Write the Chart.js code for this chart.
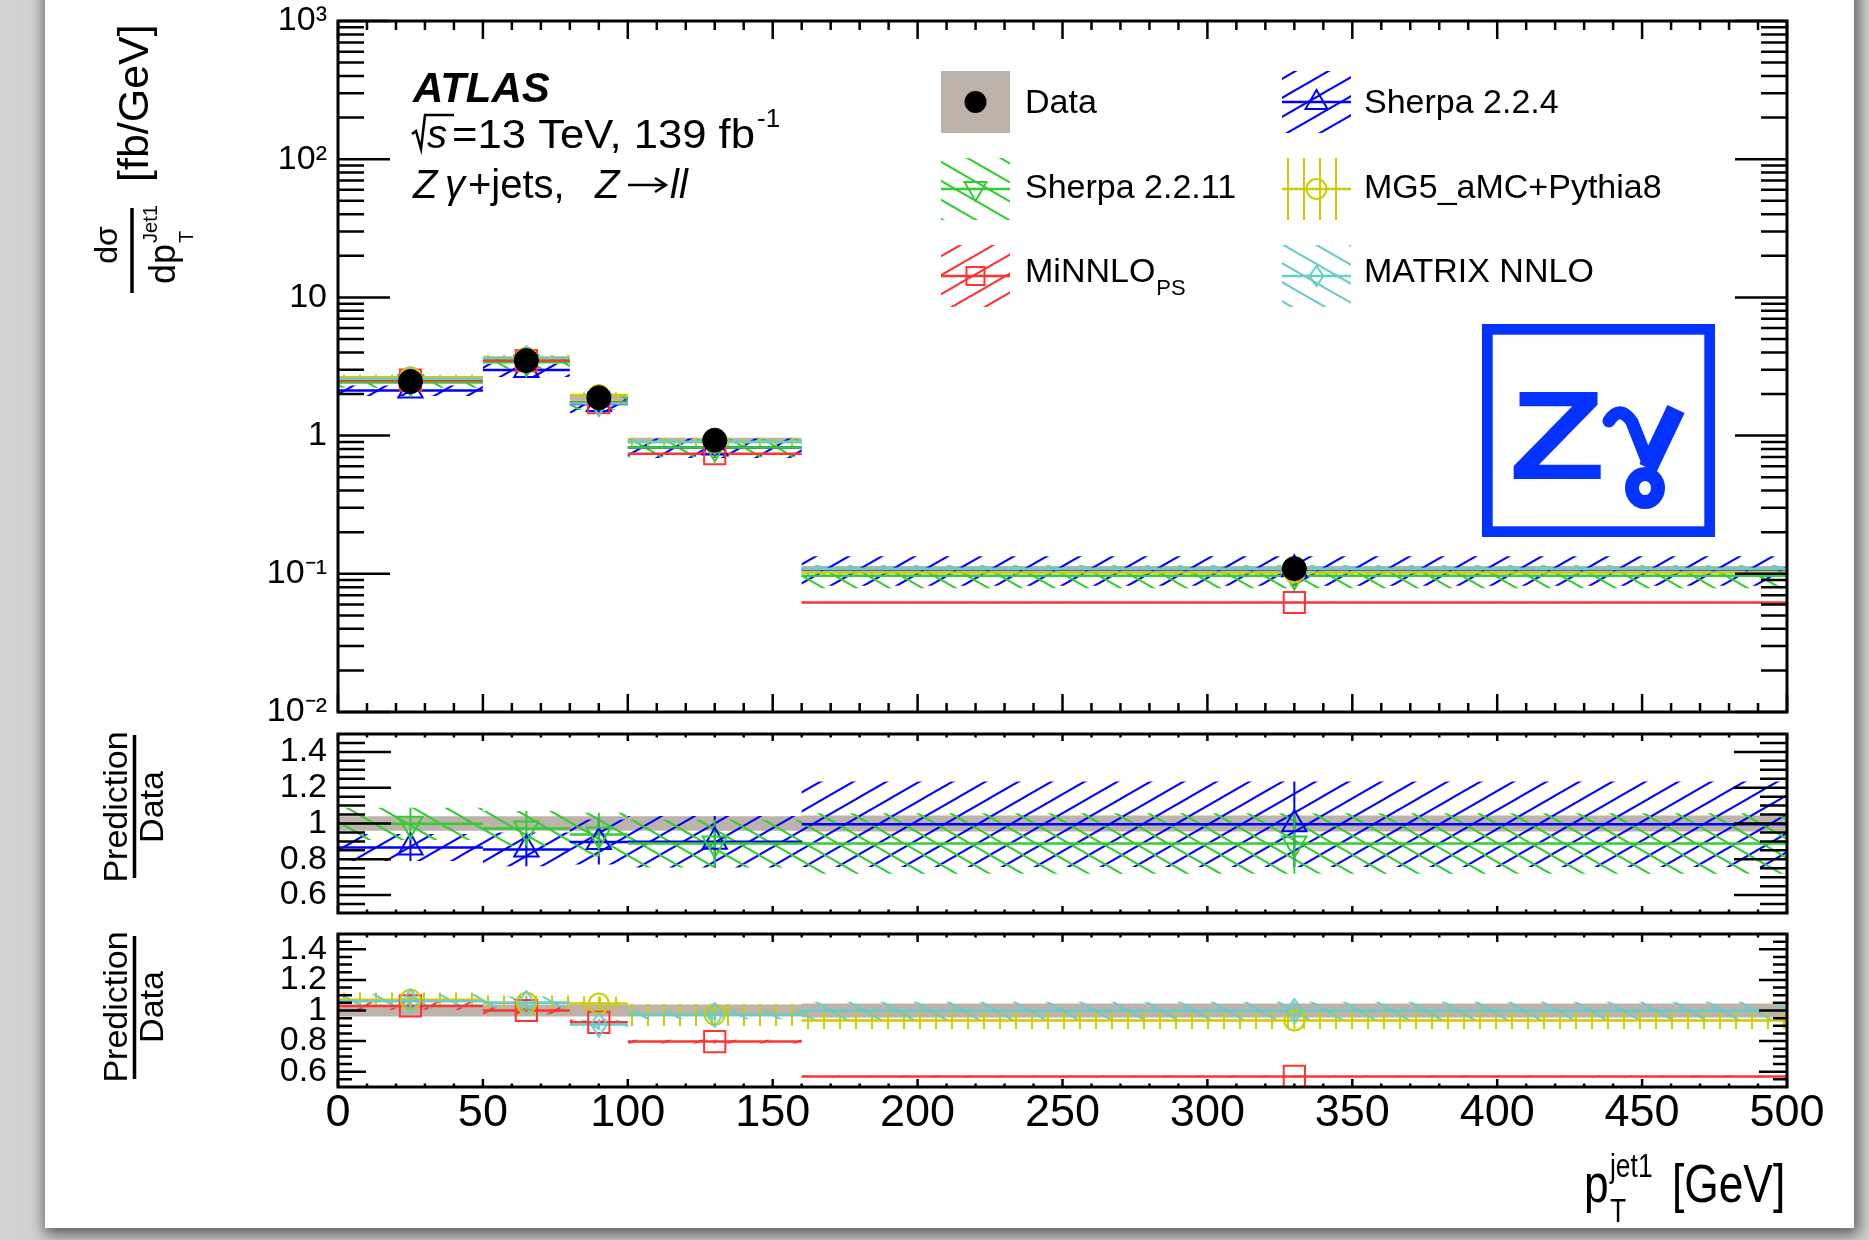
<!DOCTYPE html>
<html>
<head>
<meta charset="utf-8">
<script src="https://cdn.jsdelivr.net/npm/chart.js@4.4.0/dist/chart.umd.min.js"></script>
<style>
  html, body { margin: 0; padding: 0; width: 1869px; height: 1240px; overflow: hidden; background: #d2d2d2; }
  #page { position: absolute; left: 45px; top: -40px; width: 1809px; height: 1268px; background: #fff;
          box-shadow: 2px 4px 14px 3px rgba(0, 0, 0, 0.55); }
  canvas { position: absolute; left: 0; top: 0; }
</style>
</head>
<body>
<div id="page"></div>
<canvas id="mainChart" width="1869" height="1240"></canvas>
<canvas id="ratio1Chart" width="1869" height="1240"></canvas>
<canvas id="ratio2Chart" width="1869" height="1240"></canvas>
<script>
// ---- values ----
const binEdges = [0, 50, 80, 100, 160, 500];
const binCenters = [25, 65, 90, 130, 330];

const dataXsec = [2.46, 3.49, 1.88, 0.926, 0.109];
const dataErr = [0.04, 0.04, 0.04, 0.04, 0.045];
const dataRatio = [1, 1, 1, 1, 1];

const sherpa224Xsec = [2.12, 2.98, 1.69, 0.82, 0.108];
const sherpa2211Xsec = [2.44, 3.39, 1.76, 0.82, 0.097];
const mg5Xsec = [2.64, 3.68, 1.97, 0.90, 0.102];
const minnloXsec = [2.52, 3.49, 1.73, 0.74, 0.062];
const matrixXsec = [2.58, 3.64, 1.71, 0.90, 0.109];

const sherpa224Ratio = [0.866, 0.855, 0.897, 0.898, 0.996];
const sherpa2211Ratio = [0.998, 0.972, 0.938, 0.888, 0.888];
const mg5Ratio = [1.07, 1.05, 1.045, 0.972, 0.935];
const minnloRatio = [1.03, 1.0, 0.923, 0.797, 0.569];
const matrixRatio = [1.06, 1.05, 0.908, 0.972, 0.998];

// relative uncertainties (hatched bands)
const sherpa224Err = [0.087, 0.11, 0.14, 0.16, 0.24];
const sherpa2211Err = [0.09, 0.10, 0.13, 0.15, 0.19];
const mg5Err = [0.045, 0.045, 0.045, 0.075, 0.06];
const minnloErr = [0.025, 0.025, 0.02, 0.015, 0.012];
const matrixErr = [0.045, 0.04, 0.035, 0.03, 0.06];

const mainTicks = [0.01, 0.1, 1, 10, 100, 1000];
const mainTickLabels = ['10\u207B\u00B2', '10\u207B\u00B9', '1', '10', '10\u00B2', '10\u00B3'];
const ratioTicks = [0.6, 0.8, 1, 1.2, 1.4];
const ratioTickLabels = ['0.6', '0.8', '1', '1.2', '1.4'];
const xTicks = [0, 50, 100, 150, 200, 250, 300, 350, 400, 450, 500];

const FONT = '"Liberation Sans", Arial, Helvetica, sans-serif';
Chart.defaults.font.family = FONT;
Chart.defaults.color = '#000';

const BLUE = '#0000ff', GREEN = '#33cc33', RED = '#ff3333', YELLOW = '#cccc00', CYAN = '#66cccc', GREY = '#bdb3aa';

// hatch fill like ROOT fill styles
function hatch(color, dir) {
  const tile = document.createElement('canvas');
  const w = dir === '|' ? 16 : 33, h = dir === '|' ? 8 : 19;
  tile.width = w; tile.height = h;
  const g = tile.getContext('2d');
  g.strokeStyle = color; g.lineWidth = 2;
  g.beginPath();
  if (dir === '|') {
    g.moveTo(w / 2, 0); g.lineTo(w / 2, h);
  } else {
    for (let k = -1; k <= 1; k++) {
      if (dir === '/') { g.moveTo(k * w - w, 2 * h); g.lineTo(k * w + 2 * w, -h); }
      else { g.moveTo(k * w - w, -h); g.lineTo(k * w + 2 * w, 2 * h); }
    }
  }
  g.stroke();
  return g.createPattern(tile, 'repeat');
}

// thin open diamond marker
function diamondImg(color) {
  const c = document.createElement('canvas');
  c.width = 20; c.height = 26;
  const g = c.getContext('2d');
  g.strokeStyle = color; g.lineWidth = 2;
  g.beginPath(); g.moveTo(10, 1); g.lineTo(18, 13); g.lineTo(10, 25); g.lineTo(2, 13); g.closePath(); g.stroke();
  return c;
}

const series = [
  { name: 'MATRIX NNLO', xsec: matrixXsec, ratio: matrixRatio, err: matrixErr, color: CYAN, hatch: '\\', marker: 'diamond', panel: 2 },
  { name: 'MG5_aMC+Pythia8', xsec: mg5Xsec, ratio: mg5Ratio, err: mg5Err, color: YELLOW, hatch: '|', marker: 'circle', panel: 2 },
  { name: 'MiNNLO', xsec: minnloXsec, ratio: minnloRatio, err: minnloErr, color: RED, hatch: '/', marker: 'square', panel: 2 },
  { name: 'Sherpa 2.2.11', xsec: sherpa2211Xsec, ratio: sherpa2211Ratio, err: sherpa2211Err, color: GREEN, hatch: '\\', marker: 'triDown', panel: 1 },
  { name: 'Sherpa 2.2.4', xsec: sherpa224Xsec, ratio: sherpa224Ratio, err: sherpa224Err, color: BLUE, hatch: '/', marker: 'triUp', panel: 1 }
];

function markerOpts(s) {
  const base = { pointBorderColor: s.color, pointBackgroundColor: 'rgba(0,0,0,0)', pointBorderWidth: 2, pointRotation: 0 };
  if (s.marker === 'triUp') return { ...base, pointStyle: 'triangle', pointRadius: 14 };
  if (s.marker === 'triDown') return { ...base, pointStyle: 'triangle', pointRadius: 14, pointRotation: 180 };
  if (s.marker === 'circle') return { ...base, pointStyle: 'circle', pointRadius: 10 };
  if (s.marker === 'square') return { ...base, pointStyle: 'rect', pointRadius: 15 };
  return { ...base, pointStyle: diamondImg(s.color), pointRadius: 11 };
}

// points helpers
function edgeSteps(vals) {
  const pts = vals.map((v, i) => ({ x: binEdges[i], y: v }));
  pts.push({ x: binEdges[binEdges.length - 1], y: vals[vals.length - 1] });
  return pts;
}
function binLines(vals) {
  const pts = [];
  vals.forEach((v, i) => {
    pts.push({ x: binEdges[i], y: v }, { x: binEdges[i + 1], y: v }, { x: binEdges[i + 1], y: null });
  });
  return pts;
}
function errBars(vals, err) {
  const pts = [];
  vals.forEach((v, i) => {
    pts.push({ x: binCenters[i], y: v * (1 - err[i]) }, { x: binCenters[i], y: v * (1 + err[i]) }, { x: binCenters[i], y: null });
  });
  return pts;
}
function bandSets(vals, err, fill, order) {
  const common = { stepped: true, borderWidth: 0, borderColor: 'transparent', pointRadius: 0, order };
  return [
    { ...common, data: edgeSteps(vals.map((v, i) => v * (1 + err[i]))), fill: false },
    { ...common, data: edgeSteps(vals.map((v, i) => v * (1 - err[i]))), fill: '-1', backgroundColor: fill }
  ];
}
function seriesSets(vals, err, s, k) {
  return [
    ...bandSets(vals, err, hatch(s.color, s.hatch), 40 + k),
    { data: binLines(vals), borderColor: s.color, borderWidth: 2.5, pointRadius: 0, fill: false, order: 30 + k },
    { data: errBars(vals, err), borderColor: s.color, borderWidth: 2, pointRadius: 0, fill: false, order: 20 + k },
    { data: binCenters.map((x, i) => ({ x, y: vals[i] })), showLine: false, order: 10 + k, ...markerOpts(s) }
  ];
}

// frame with inward ticks on all four sides
function framePlugin(cfg) {
  return {
    id: 'frame',
    afterDraw(chart) {
      const { ctx, chartArea: a } = chart;
      const x = chart.scales.x, y = chart.scales.y;
      ctx.save();
      ctx.strokeStyle = '#000';
      ctx.lineWidth = 2.5;
      ctx.beginPath();
      for (let v = 0; v <= 500; v += 10) {
        const px = x.getPixelForValue(v);
        const len = v % 50 === 0 ? cfg.xMajor : cfg.xMinor;
        ctx.moveTo(px, a.top); ctx.lineTo(px, a.top + len);
        ctx.moveTo(px, a.bottom); ctx.lineTo(px, a.bottom - len);
      }
      const yTick = (v, len) => {
        const py = y.getPixelForValue(v);
        ctx.moveTo(a.left, py); ctx.lineTo(a.left + len, py);
        ctx.moveTo(a.right, py); ctx.lineTo(a.right - len, py);
      };
      cfg.yMinorVals.forEach(v => yTick(v, cfg.yMinor));
      cfg.yMajorVals.forEach(v => yTick(v, cfg.yMajor));
      ctx.stroke();
      ctx.lineWidth = 3;
      ctx.strokeRect(a.left, a.top, a.right - a.left, a.bottom - a.top);
      ctx.restore();
    }
  };
}

const logMinor = [];
[-2, -1, 0, 1, 2].forEach(k => { for (let m = 2; m <= 9; m++) logMinor.push(m * Math.pow(10, k)); });
const ratioMinor = [0.55, 0.65, 0.7, 0.75, 0.85, 0.9, 0.95, 1.05, 1.1, 1.15, 1.25, 1.3, 1.35, 1.45];

// text helpers
function txt(ctx, s, x, y, font, sx) {
  ctx.save(); ctx.translate(x, y); ctx.scale(sx || 1, 1);
  ctx.font = font; ctx.textAlign = 'left'; ctx.textBaseline = 'alphabetic';
  ctx.fillText(s, 0, 0); ctx.restore();
}
function rotText(ctx, s, x, y, font, align) {
  ctx.save(); ctx.translate(x, y); ctx.rotate(-Math.PI / 2);
  ctx.font = font; ctx.textAlign = align || 'left'; ctx.textBaseline = 'alphabetic';
  ctx.fillText(s, 0, 0); ctx.restore();
}
function drawMarker(ctx, kind, x, y, color) {
  ctx.save();
  ctx.strokeStyle = color; ctx.fillStyle = color; ctx.lineWidth = 2;
  ctx.beginPath();
  if (kind === 'dot') { ctx.arc(x, y, 11, 0, 2 * Math.PI); ctx.fill(); }
  else if (kind === 'triUp') { ctx.moveTo(x, y - 12); ctx.lineTo(x + 11, y + 7); ctx.lineTo(x - 11, y + 7); ctx.closePath(); ctx.stroke(); }
  else if (kind === 'triDown') { ctx.moveTo(x, y + 12); ctx.lineTo(x + 11, y - 7); ctx.lineTo(x - 11, y - 7); ctx.closePath(); ctx.stroke(); }
  else if (kind === 'circle') { ctx.arc(x, y, 10, 0, 2 * Math.PI); ctx.stroke(); }
  else if (kind === 'square') { ctx.rect(x - 9, y - 9, 18, 18); ctx.stroke(); }
  else { ctx.moveTo(x, y - 10); ctx.lineTo(x + 7, y); ctx.lineTo(x, y + 10); ctx.lineTo(x - 7, y); ctx.closePath(); ctx.stroke(); }
  ctx.restore();
}

// labels, legend, logo, axis titles
const decorPlugin = {
  id: 'decor',
  afterDraw(chart) {
    const ctx = chart.ctx;
    ctx.save();
    ctx.fillStyle = '#000';

    // ATLAS label
    txt(ctx, 'ATLAS', 413, 102, 'italic bold 42px ' + FONT);
    ctx.strokeStyle = '#000'; ctx.lineWidth = 2.5;
    ctx.beginPath();
    ctx.moveTo(412, 134); ctx.lineTo(416, 131); ctx.lineTo(421, 149); ctx.lineTo(425, 115); ctx.lineTo(454, 115);
    ctx.stroke();
    txt(ctx, 's', 427, 148, 'italic 40px ' + FONT);
    ctx.font = '40px ' + FONT;
    const wLumi = ctx.measureText('=13 TeV, 139 fb').width;
    txt(ctx, '=13 TeV, 139 fb', 452, 148, '40px ' + FONT, (755 - 452) / wLumi);
    txt(ctx, '-1', 757, 127, '26px ' + FONT);
    txt(ctx, 'Z', 413, 198, 'italic 40px ' + FONT);
    txt(ctx, '\u03B3', 445, 198, 'italic 40px ' + FONT);
    txt(ctx, '+jets,', 468, 198, '40px ' + FONT);
    txt(ctx, 'Z', 595, 198, 'italic 40px ' + FONT);
    ctx.beginPath();
    ctx.moveTo(628, 185); ctx.lineTo(665, 185);
    ctx.moveTo(655, 178); ctx.lineTo(666, 185); ctx.lineTo(655, 192);
    ctx.stroke();
    txt(ctx, 'll', 670, 198, 'italic 40px ' + FONT);

    // legend
    const colX = [941, 1282], rowY = [71, 158, 245], textX = [1025, 1364], baseY = [113, 198, 282];
    const bw = 69, bh = 62;
    ctx.fillStyle = GREY; ctx.fillRect(colX[0], rowY[0], bw, bh);
    drawMarker(ctx, 'dot', colX[0] + bw / 2, rowY[0] + bh / 2, '#000');
    const legendPos = { 'Sherpa 2.2.4': [1, 0], 'Sherpa 2.2.11': [0, 1], 'MG5_aMC+Pythia8': [1, 1], 'MiNNLO': [0, 2], 'MATRIX NNLO': [1, 2] };
    series.forEach(s => {
      const [c, r] = legendPos[s.name];
      const x0 = colX[c], y0 = rowY[r];
      ctx.fillStyle = hatch(s.color, s.hatch);
      ctx.fillRect(x0, y0, bw, bh);
      ctx.strokeStyle = s.color; ctx.lineWidth = 2.5;
      ctx.beginPath(); ctx.moveTo(x0, y0 + bh / 2); ctx.lineTo(x0 + bw, y0 + bh / 2); ctx.stroke();
      drawMarker(ctx, s.marker, x0 + bw / 2, y0 + bh / 2, s.color);
    });
    ctx.fillStyle = '#000';
    const LF = '34px ' + FONT;
    txt(ctx, 'Data', textX[0], baseY[0], LF);
    txt(ctx, 'Sherpa 2.2.4', textX[1], baseY[0], LF);
    txt(ctx, 'Sherpa 2.2.11', textX[0], baseY[1], LF);
    txt(ctx, 'MG5_aMC+Pythia8', textX[1], baseY[1], LF);
    txt(ctx, 'MiNNLO', textX[0], baseY[2], LF);
    ctx.font = LF;
    const wMi = ctx.measureText('MiNNLO').width;
    txt(ctx, 'PS', textX[0] + wMi + 1, baseY[2] + 13, '22px ' + FONT);
    txt(ctx, 'MATRIX NNLO', textX[1], baseY[2], LF);

    // Z gamma logo (box, bold Z, looped gamma)
    const logo = '#0433ff';
    ctx.strokeStyle = logo; ctx.lineWidth = 10.7;
    ctx.strokeRect(1482 + 5.35, 324 + 5.35, 233 - 10.7, 213 - 10.7);
    ctx.fillStyle = logo;
    txt(ctx, 'Z', 1509, 479, 'bold 126px ' + FONT, 1.25);
    ctx.lineCap = 'round';
    ctx.lineWidth = 13;
    ctx.beginPath(); ctx.moveTo(1609, 421); ctx.quadraticCurveTo(1620, 404, 1632, 422); ctx.lineTo(1647, 460); ctx.stroke();
    ctx.lineCap = 'butt';
    ctx.lineWidth = 19;
    ctx.beginPath(); ctx.moveTo(1676, 409); ctx.lineTo(1648, 468); ctx.stroke();
    ctx.lineWidth = 14;
    ctx.beginPath(); ctx.ellipse(1645, 488, 13, 14, 0, 0, 2 * Math.PI); ctx.stroke();

    // y axis title of the cross-section panel
    ctx.fillStyle = '#000';
    ctx.strokeStyle = '#000';
    rotText(ctx, 'd\u03C3', 117, 245, '32px ' + FONT, 'center');
    ctx.lineWidth = 3.5;
    ctx.beginPath(); ctx.moveTo(132, 208); ctx.lineTo(132, 293); ctx.stroke();
    rotText(ctx, 'dp', 175, 284, '36px ' + FONT);
    ctx.font = '36px ' + FONT;
    const wdp = ctx.measureText('dp').width;
    rotText(ctx, 'Jet1', 157, 284 - wdp - 1, '20px ' + FONT);
    rotText(ctx, 'T', 193, 284 - wdp - 1, '20px ' + FONT);
    rotText(ctx, '[fb/GeV]', 148, 182, '43px ' + FONT);

    // ratio titles
    [[807, 735, 878], [1007, 936, 1079]].forEach(([cy, b0, b1]) => {
      rotText(ctx, 'Prediction', 127, cy, '34px ' + FONT, 'center');
      rotText(ctx, 'Data', 163, cy, '34px ' + FONT, 'center');
      ctx.beginPath(); ctx.moveTo(134.5, b0); ctx.lineTo(134.5, b1); ctx.stroke();
    });

    // x axis title
    txt(ctx, 'p', 1584, 1202, '54px ' + FONT, 0.82);
    txt(ctx, 'jet1', 1610, 1177, '33px ' + FONT, 0.8);
    txt(ctx, 'T', 1610, 1222, '33px ' + FONT, 0.8);
    txt(ctx, '[GeV]', 1672, 1202, '54px ' + FONT, 0.82);
    ctx.restore();
  }
};

function makeChart(id, datasets, yOpts, pad, frameCfg, showX, extra) {
  const ctx = document.getElementById(id).getContext('2d');
  return new Chart(ctx, {
    type: 'line',
    data: { datasets },
    options: {
      responsive: false,
      animation: false,
      devicePixelRatio: 1,
      layout: { padding: pad },
      plugins: { legend: { display: false }, tooltip: { enabled: false } },
      elements: { line: { tension: 0 } },
      scales: {
        x: {
          type: 'linear', min: 0, max: 500, display: showX,
          grid: { display: false, drawTicks: false }, border: { display: false },
          afterBuildTicks: s => { s.ticks = xTicks.map(v => ({ value: v })); },
          afterFit: s => { if (showX) s.height = 60; },
          ticks: { autoSkip: false, maxRotation: 0, padding: 0, font: { size: 45 }, callback: v => String(v) }
        },
        y: Object.assign({
          grid: { display: false, drawTicks: false }, border: { display: false },
          afterFit: s => { s.width = 338; }
        }, yOpts)
      }
    },
    plugins: [framePlugin(frameCfg)].concat(extra || [])
  });
}

// ---- cross-section panel ----
const mainSets = [];
series.forEach((s, k) => mainSets.push(...seriesSets(s.xsec, s.err, s, k)));
mainSets.push(...bandSets(dataXsec, dataErr, GREY, 50));
mainSets.push({
  data: binCenters.map((x, i) => ({ x, y: dataXsec[i] })), showLine: false, order: 0,
  pointStyle: 'circle', pointRadius: 12, pointBackgroundColor: '#000', pointBorderColor: '#000', pointBorderWidth: 1
});
makeChart('mainChart', mainSets, {
  type: 'logarithmic', min: 0.01, max: 1000,
  afterBuildTicks: s => { s.ticks = mainTicks.map(v => ({ value: v })); },
  ticks: { autoSkip: false, padding: 11, font: { size: 34, lineHeight: 0.55 }, callback: (v, i) => mainTickLabels[i] }
}, { left: 0, right: 82, top: 21, bottom: 528 },
{ xMajor: 18, xMinor: 9, yMajor: 52, yMinor: 26, yMajorVals: mainTicks, yMinorVals: logMinor }, false, [decorPlugin]);

// ---- ratio panels ----
function ratioY() {
  return {
    type: 'linear', min: 0.5, max: 1.5,
    afterBuildTicks: s => { s.ticks = ratioTicks.map(v => ({ value: v })); },
    ticks: { autoSkip: false, padding: 11, font: { size: 34, lineHeight: 0.55 }, callback: (v, i) => ratioTickLabels[i] }
  };
}
function ratioSets(panel) {
  const sets = [];
  series.filter(s => s.panel === panel).forEach((s, k) => sets.push(...seriesSets(s.ratio, s.err, s, k)));
  sets.push(...bandSets(dataRatio, dataErr, GREY, 50));
  return sets;
}
makeChart('ratio1Chart', ratioSets(1), ratioY(), { left: 0, right: 82, top: 734, bottom: 327 },
  { xMajor: 7, xMinor: 3.5, yMajor: 53, yMinor: 27, yMajorVals: ratioTicks, yMinorVals: ratioMinor }, false);
makeChart('ratio2Chart', ratioSets(2), ratioY(), { left: 0, right: 82, top: 934, bottom: 93 },
  { xMajor: 8, xMinor: 3.5, yMajor: 28, yMinor: 14, yMajorVals: ratioTicks, yMinorVals: ratioMinor }, true);
</script>
</body>
</html>
